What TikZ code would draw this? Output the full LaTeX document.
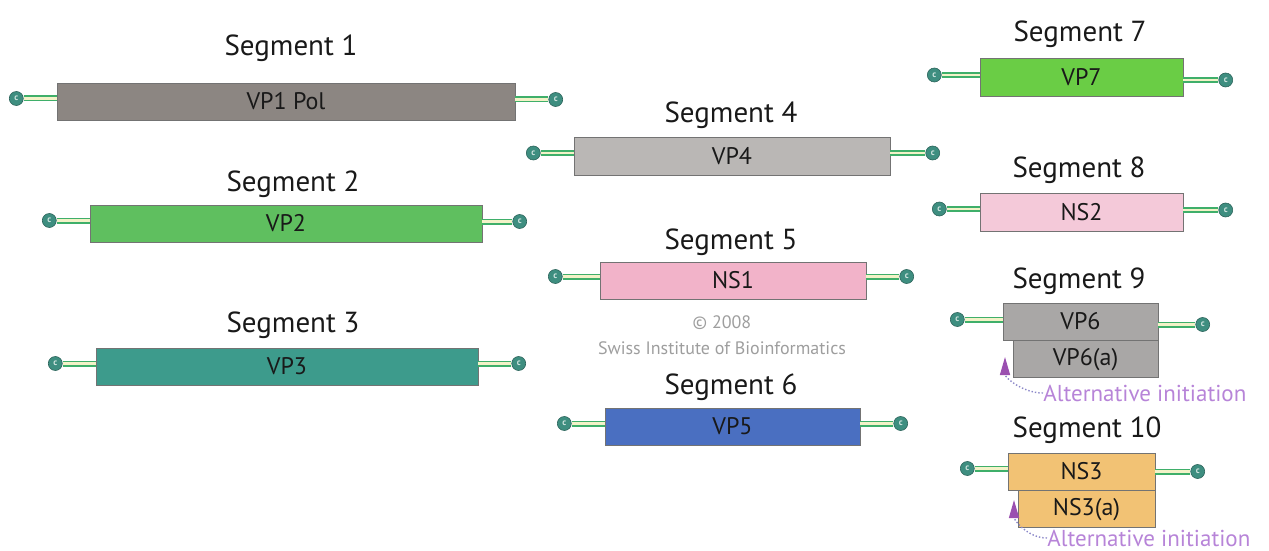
\documentclass[tikz,border=0pt]{standalone}
\usepackage{fontspec}
\setmainfont{PT Sans}
\usetikzlibrary{positioning,arrows.meta}

\definecolor{polgray}{HTML}{8C8682}
\definecolor{vptwo}{HTML}{5FBF5F}
\definecolor{vpthree}{HTML}{3D9B8C}
\definecolor{vpfour}{HTML}{BAB7B5}
\definecolor{nsone}{HTML}{F2B3C9}
\definecolor{vpfive}{HTML}{4A6FC1}
\definecolor{vpseven}{HTML}{6ACD45}
\definecolor{nstwo}{HTML}{F4C9D9}
\definecolor{vpsix}{HTML}{A9A7A6}
\definecolor{nsthree}{HTML}{F2C274}
\definecolor{capteal}{HTML}{3E8E80}
\definecolor{tailgreen}{HTML}{3FAF6A}
\definecolor{tailcream}{HTML}{F3F2C8}
\definecolor{altpurple}{HTML}{9A4FB0}
\definecolor{alttext}{HTML}{B784D8}
\definecolor{altdots}{HTML}{8A86C8}

\tikzset{
  segbox/.style={draw=black!55, line width=0.4pt, minimum height=18.5pt, inner sep=0pt, font=\fontsize{12}{12}\selectfont, text=black!90},
  segtitle/.style={font=\fontsize{14.5}{14.5}\selectfont, text=black!90, inner sep=0pt},
  capend/.style={circle, fill=capteal, draw=capteal!70!black, line width=0.3pt, inner sep=0pt, minimum size=7pt, font=\fontsize{4.5}{4.5}\selectfont\bfseries, text=white!75!capteal},
  tail/.style={draw=tailgreen, double=tailcream, double distance=1.2pt, line width=0.9pt},
  altnote/.style={font=\fontsize{11.5}{11.5}\selectfont, text=alttext, inner sep=0pt, anchor=west},
  altline/.style={draw=altdots, densely dotted, line width=0.7pt, -{Triangle[length=9pt,width=5pt,color=altpurple]}},
  credit/.style={font=\fontsize{9}{9}\selectfont, text=black!38, inner sep=0pt}
}

\begin{document}
\begin{tikzpicture}[x=0.5pt,y=-0.5pt]
\useasboundingbox (0,0) rectangle (1269,551);

% left column
\node[segbox, fill=polgray, minimum width=229pt] (s1) at (286,101.5) {VP1 Pol};
\node[segtitle] (t1) at (291,48) {Segment 1};
\node[capend, left=16.5pt of s1, yshift=1.5pt] (s1l) {c};
\node[capend, right=16.5pt of s1, yshift=1pt] (s1r) {c};
\draw[tail] (s1l) -- (s1l -| s1.west);
\draw[tail] (s1r) -- (s1r -| s1.east);

\node[segbox, fill=vptwo, minimum width=196pt] (s2) at (286,223.5) {VP2};
\node[segtitle] (t2) at (293,184) {Segment 2};
\node[capend, left=16.5pt of s2, yshift=1.5pt] (s2l) {c};
\node[capend, right=15pt of s2, yshift=1pt] (s2r) {c};
\draw[tail] (s2l) -- (s2l -| s2.west);
\draw[tail] (s2r) -- (s2r -| s2.east);

\node[segbox, fill=vpthree, minimum width=191pt] (s3) at (287,366.5) {VP3};
\node[segtitle] (t3) at (293,325) {Segment 3};
\node[capend, left=16.5pt of s3, yshift=1.5pt] (s3l) {c};
\node[capend, right=16.5pt of s3, yshift=1.5pt] (s3r) {c};
\draw[tail] (s3l) -- (s3l -| s3.west);
\draw[tail] (s3r) -- (s3r -| s3.east);

% middle column
\node[segbox, fill=vpfour, minimum width=158pt, minimum height=19pt] (s4) at (732,156) {VP4};
\node[segtitle] (t4) at (731,115) {Segment 4};
\node[capend, left=16.5pt of s4, yshift=1.5pt] (s4l) {c};
\node[capend, right=17.5pt of s4, yshift=1.5pt] (s4r) {c};
\draw[tail] (s4l) -- (s4l -| s4.west);
\draw[tail] (s4r) -- (s4r -| s4.east);

\node[segbox, fill=nsone, minimum width=133pt] (s5) at (733,280.5) {NS1};
\node[segtitle] (t5) at (731,242) {Segment 5};
\node[capend, left=18.5pt of s5, yshift=2pt] (s5l) {c};
\node[capend, right=16.5pt of s5, yshift=2pt] (s5r) {c};
\draw[tail] (s5l) -- (s5l -| s5.west);
\draw[tail] (s5r) -- (s5r -| s5.east);

\node[credit] (cr1) at (722,323) {© 2008};
\node[credit] (cr2) at (722,348) {Swiss Institute of Bioinformatics};

\node[segbox, fill=vpfive, minimum width=127.5pt] (s6) at (732.5,426.5) {VP5};
\node[segtitle] (t6) at (731,387) {Segment 6};
\node[capend, left=16.5pt of s6, yshift=1.5pt] (s6l) {c};
\node[capend, right=16.5pt of s6, yshift=1.5pt] (s6r) {c};
\draw[tail] (s6l) -- (s6l -| s6.west);
\draw[tail] (s6r) -- (s6r -| s6.east);

% right column
\node[segbox, fill=vpseven, minimum width=101.5pt, minimum height=19pt] (s7) at (1081.5,77) {VP7};
\node[segtitle] (t7) at (1080,34) {Segment 7};
\node[capend, left=19pt of s7, yshift=1pt] (s7l) {c};
\node[capend, right=17.5pt of s7, yshift=-1.5pt] (s7r) {c};
\draw[tail] (s7l) -- (s7l -| s7.west);
\draw[tail] (s7r) -- (s7r -| s7.east);

\node[segbox, fill=nstwo, minimum width=101.5pt, minimum height=19pt] (s8) at (1081.5,212) {NS2};
\node[segtitle] (t8) at (1079,170) {Segment 8};
\node[capend, left=16.5pt of s8, yshift=1.5pt] (s8l) {c};
\node[capend, right=17.5pt of s8, yshift=1pt] (s8r) {c};
\draw[tail] (s8l) -- (s8l -| s8.west);
\draw[tail] (s8r) -- (s8r -| s8.east);

\node[segbox, fill=vpsix, minimum width=77.5pt] (s9) at (1080.5,321.5) {VP6};
\node[segbox, fill=vpsix, minimum width=72.5pt, anchor=north east] (s9a) at (s9.south east) {VP6(a)};
\node[segtitle] (t9) at (1079,281) {Segment 9};
\node[capend, left=19pt of s9, yshift=1pt] (s9l) {c};
\node[capend, right=18.5pt of s9, yshift=-1.5pt] (s9r) {c};
\draw[tail] (s9l) -- (s9l -| s9.west);
\draw[tail] (s9r) -- (s9r -| s9.east);
\node[altnote] (alt9) at (1043,393) {Alternative initiation};
\coordinate (tip9) at (1005,357);
\draw[altline] (alt9.west) to[out=180, in=-90] (tip9);

\node[segbox, fill=nsthree, minimum width=73.5pt] (s10) at (1081.5,471.5) {NS3};
\node[segbox, fill=nsthree, minimum width=68.5pt, anchor=north east] (s10a) at (s10.south east) {NS3(a)};
\node[segtitle] (t10) at (1087,430) {Segment 10};
\node[capend, left=16.5pt of s10, yshift=1.5pt] (s10l) {c};
\node[capend, right=17.5pt of s10, yshift=0pt] (s10r) {c};
\draw[tail] (s10l) -- (s10l -| s10.west);
\draw[tail] (s10r) -- (s10r -| s10.east);
\node[altnote] (alt10) at (1047,538) {Alternative initiation};
\coordinate (tip10) at (1014,500);
\draw[altline] (alt10.west) to[out=180, in=-90] (tip10);
\end{tikzpicture}
\end{document}
